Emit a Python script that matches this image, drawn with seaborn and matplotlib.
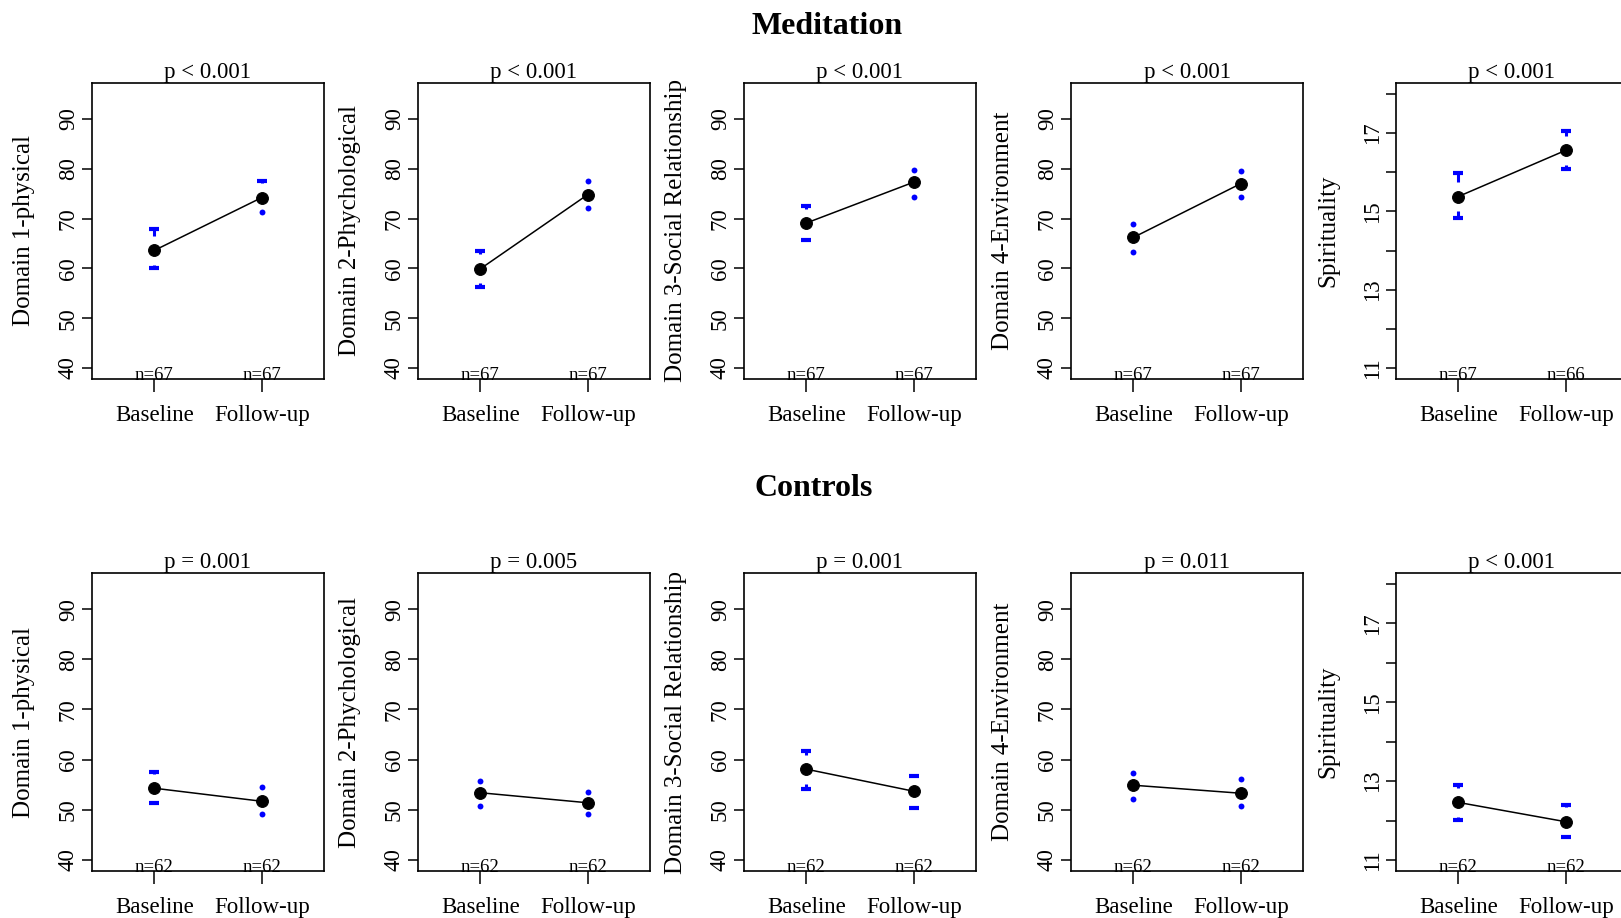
import numpy as np
import pandas as pd
import matplotlib
matplotlib.use("Agg")
import matplotlib.pyplot as plt
import matplotlib.transforms as mtransforms
import seaborn as sns

# ---------------- data ----------------
domains = ["Domain 1-physical", "Domain 2-Phychological",
           "Domain 3-Social Relationship", "Domain 4-Environment", "Spirituality"]
timepoints = ["Baseline", "Follow-up"]

med_mean_base = [63.6, 59.9, 69.1, 66.2, 15.38]
med_lo_base = [60.0, 56.2, 65.6, 63.3, 14.82]
med_hi_base = [68.0, 63.5, 72.6, 69.0, 15.97]
med_mean_fu = [74.2, 74.8, 77.3, 77.0, 16.56]
med_lo_fu = [71.3, 72.2, 74.4, 74.4, 16.09]
med_hi_fu = [77.5, 77.6, 79.8, 79.5, 17.05]
med_n_base = [67, 67, 67, 67, 67]
med_n_fu = [67, 67, 67, 67, 66]
med_p = ["p < 0.001", "p < 0.001", "p < 0.001", "p < 0.001", "p < 0.001"]

ctl_mean_base = [54.3, 53.4, 58.1, 54.9, 12.46]
ctl_lo_base = [51.4, 50.7, 54.2, 52.1, 12.02]
ctl_hi_base = [57.5, 55.8, 61.8, 57.4, 12.89]
ctl_mean_fu = [51.7, 51.4, 53.7, 53.3, 11.97]
ctl_lo_fu = [49.1, 49.1, 50.4, 50.7, 11.58]
ctl_hi_fu = [54.5, 53.6, 56.8, 56.1, 12.40]
ctl_n_base = [62, 62, 62, 62, 62]
ctl_n_fu = [62, 62, 62, 62, 62]
ctl_p = ["p = 0.001", "p = 0.005", "p = 0.001", "p = 0.011", "p < 0.001"]

group_titles = ["Meditation", "Controls"]

# ---------------- style ----------------
sns.set_style("ticks")
plt.rcParams["font.family"] = ["Liberation Serif", "DejaVu Serif"]
plt.rcParams["text.color"] = "black"
plt.rcParams["axes.labelcolor"] = "black"
plt.rcParams["xtick.color"] = "black"
plt.rcParams["ytick.color"] = "black"
plt.rcParams["axes.edgecolor"] = "black"

W, H = 1621, 918
fig = plt.figure(figsize=(W / 100, H / 100), dpi=100)

lefts_px = [92, 418, 744, 1071, 1396]
ax_w_px = 232
rows_px = [(83, 379), (573, 871)]

groups = [
    dict(mb=med_mean_base, lb=med_lo_base, hb=med_hi_base,
         mf=med_mean_fu, lf=med_lo_fu, hf=med_hi_fu,
         nb=med_n_base, nf=med_n_fu, p=med_p),
    dict(mb=ctl_mean_base, lb=ctl_lo_base, hb=ctl_hi_base,
         mf=ctl_mean_fu, lf=ctl_lo_fu, hf=ctl_hi_fu,
         nb=ctl_n_base, nf=ctl_n_fu, p=ctl_p),
]

GAP_PX = 14.5
BLUE = "#0000FF"

for r, g in enumerate(groups):
    top, bot = rows_px[r]
    for i in range(5):
        ax = fig.add_axes([lefts_px[i] / W, 1 - bot / H, ax_w_px / W, (bot - top) / H])
        df = pd.DataFrame({
            "x": [1, 2],
            "mean": [g["mb"][i], g["mf"][i]],
            "lo": [g["lb"][i], g["lf"][i]],
            "hi": [g["hb"][i], g["hf"][i]],
            "n": [g["nb"][i], g["nf"][i]],
        })
        if i < 4:
            ylim = (37.8, 97.2)
            yt = [40, 50, 60, 70, 80, 90]
            ytl = ["40", "50", "60", "70", "80", "90"]
        else:
            ylim = (10.72, 18.28)
            yt = [11, 12, 13, 14, 15, 16, 17, 18]
            ytl = ["11", "", "13", "", "15", "", "17", ""]
        ax.set_xlim(0.42, 2.58)
        ax.set_ylim(*ylim)
        px_per_unit = (bot - top) / (ylim[1] - ylim[0])
        gap = GAP_PX / px_per_unit

        # error bars (CI) with gap around the mean
        for _, row in df.iterrows():
            for end, sgn in ((row["hi"], 1), (row["lo"], -1)):
                start = row["mean"] + sgn * gap
                if (end - start) * sgn > 0:
                    ax.vlines(row["x"], start, end, color=BLUE, lw=2.2, zorder=2)
                    ax.hlines(end, row["x"] - 0.045, row["x"] + 0.045,
                              color=BLUE, lw=3.0, zorder=2)
                else:
                    ax.scatter([row["x"]], [end], s=18, color=BLUE,
                               linewidths=0, zorder=2)

        sns.lineplot(data=df, x="x", y="mean", ax=ax, color="black", lw=1.1,
                     marker="o", markersize=8.5, markeredgecolor="black",
                     markerfacecolor="black", zorder=3)

        trans = mtransforms.blended_transform_factory(ax.transData, ax.transAxes)
        for _, row in df.iterrows():
            ax.text(row["x"], -0.004, f"n={int(row['n'])}", transform=trans,
                    ha="center", va="baseline", fontsize=13.5)

        ax.set_xticks([1, 2])
        ax.set_xticklabels(timepoints, fontsize=16.5)
        ax.set_yticks(yt)
        ax.set_yticklabels(ytl, fontsize=16.5, rotation=90, va="center")
        ax.tick_params(axis="x", direction="out", length=9, width=1.1, pad=10,
                       color="black")
        ax.tick_params(axis="y", direction="out", length=7.5, width=1.1, pad=2,
                       color="black")
        for s in ax.spines.values():
            s.set_visible(True)
            s.set_linewidth(1.2)
            s.set_color("black")
        ax.set_xlabel("")
        ax.set_ylabel(domains[i], fontsize=18)
        ax.yaxis.label.set_va("center")
        ax.yaxis.set_label_coords(-68 / ax_w_px, 0.5)
        ax.set_title(g["p"][i], fontsize=16.5, pad=3)

fig.text(827 / W, 1 - 26 / H, group_titles[0], ha="center", va="center",
         fontsize=23, fontweight="bold")
fig.text(814 / W, 1 - 488 / H, group_titles[1], ha="center", va="center",
         fontsize=23, fontweight="bold")

fig.savefig("out.png", dpi=100, facecolor="white")
